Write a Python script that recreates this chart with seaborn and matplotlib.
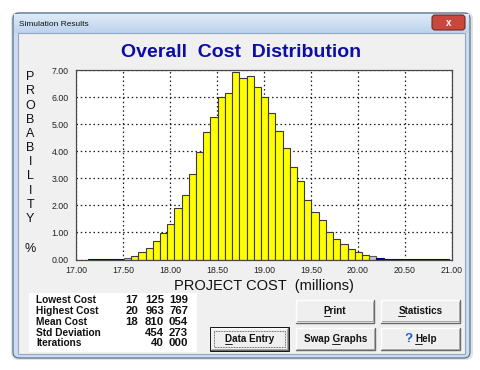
import numpy as np
import pandas as pd
import matplotlib
matplotlib.use("Agg")
import matplotlib.pyplot as plt
from matplotlib.patches import Rectangle, FancyBboxPatch
import seaborn as sns

# ---------------------------------------------------------------------
# Simulation output
# ---------------------------------------------------------------------
lowest_cost = 17.125199      # millions
highest_cost = 20.963767
n_bins = 50

# probability (%) of each cost bin, lowest -> highest
probability = [
    0.004, 0.004, 0.006, 0.010, 0.030,
    0.07, 0.12, 0.28, 0.44, 0.68,
    0.99, 1.31, 1.91, 2.40, 3.14,
    3.97, 4.71, 5.25, 6.01, 6.14,
    6.94, 6.71, 6.79, 6.37, 6.01,
    5.40, 4.75, 4.11, 3.41, 2.90,
    2.21, 1.74, 1.45, 1.01, 0.77,
    0.58, 0.37, 0.28, 0.16, 0.12,
    0.05, 0.010, 0.006, 0.004, 0.003,
    0.003, 0.002, 0.002, 0.002, 0.002,
]

x_ticks = [17.0, 17.5, 18.0, 18.5, 19.0, 19.5, 20.0, 20.5, 21.0]
y_ticks = [0, 1, 2, 3, 4, 5, 6, 7]

stat_labels = ["Lowest Cost", "Highest Cost", "Mean Cost", "Std Deviation", "Iterations"]
stat_values = ["17 125 199", "20 963 767", "18 810 054", "454 273", "40 000"]

title = "Overall  Cost  Distribution"
x_label = "PROJECT COST  (millions)"
y_label = "PROBABILITY"

edges = np.linspace(lowest_cost, highest_cost, n_bins + 1)
hist_df = pd.DataFrame({"cost": (edges[:-1] + edges[1:]) / 2, "prob": probability})

# ---------------------------------------------------------------------
# figure + window chrome (pixel coordinates, y down)
# ---------------------------------------------------------------------
sns.set_theme(style="white")
plt.rcParams["font.family"] = ["Liberation Sans", "DejaVu Sans"]

fig = plt.figure(figsize=(4.8, 3.7), dpi=100)
fig.patch.set_facecolor("white")
bg = fig.add_axes([0, 0, 1, 1])
bg.axis("off")

PX = 0.72  # one pixel in points

# shadow + frame
bg.add_patch(FancyBboxPatch((11, 12), 462, 348, boxstyle="round,pad=0,rounding_size=7",
                            fc="#e2e2e2", ec="none"))
bg.add_patch(FancyBboxPatch((13, 13), 457, 345, boxstyle="round,pad=0,rounding_size=6",
                            fc="#c9dcf1", ec="#5d7290", lw=0.9))
# title bar gradient
grad = np.linspace(0, 1, 20)[:, None, None]
top_c = np.array([0.87, 0.92, 0.97])
bot_c = np.array([0.74, 0.83, 0.93])
bg.imshow(top_c * (1 - grad) + bot_c * grad, extent=[14, 469, 33, 14], aspect="auto", zorder=1)
bg.set_xlim(0, 480)
bg.set_ylim(370, 0)
bg.text(19, 24, "Simulation Results", fontsize=6, va="center", ha="left", color="#111111", zorder=3)
bg.add_patch(FancyBboxPatch((432, 15), 33, 15, boxstyle="round,pad=0,rounding_size=3",
                            fc="#c9473d", ec="#6e2a24", lw=0.8, zorder=3))
bg.text(448.5, 22.5, "x", fontsize=7, fontweight="bold", color="white",
        ha="center", va="center", zorder=4)

# client area
bg.add_patch(Rectangle((18, 33), 447, 321, fc="#f0f0f0", ec="#93a7c0", lw=0.8, zorder=2))

bg.text(241, 57, title, fontsize=14, fontweight="bold", color="#0d0da6",
        ha="center", va="baseline", zorder=3)

# stacked y label
for i, ch in enumerate(y_label):
    bg.text(30.3, 77.2 + i * 14.18, ch, fontsize=9, ha="center", va="center",
            color="#111111", zorder=3)
bg.text(30, 249.5, "%", fontsize=9, ha="center", va="center", color="#111111", zorder=3)

bg.text(264, 290.4, x_label, fontsize=10.5, ha="center", va="baseline",
        color="#111111", zorder=3)

# stats box
bg.add_patch(Rectangle((29, 293), 168, 59, fc="white", ec="none", zorder=3))
baselines = [303, 313.8, 324.7, 335.7, 346.5]
group_right = [188, 164, 138]
for lab, val, yb in zip(stat_labels, stat_values, baselines):
    bg.text(36, yb, lab, fontsize=7.3, fontweight="bold", ha="left", va="baseline",
            color="#111111", zorder=4)
    for grp, xr in zip(reversed(val.split()), group_right):
        bg.text(xr, yb, grp, fontsize=8.2, fontweight="bold", ha="right", va="baseline",
                color="#111111", zorder=4)

# buttons
renderer = fig.canvas.get_renderer()


def text_width(s, **kw):
    t = bg.text(0, 0, s, **kw)
    w = t.get_window_extent(renderer).width
    t.remove()
    return w


def button(x0, y0, x1, y1, label, key, baseline, focus=False, help_icon=False):
    bg.add_patch(Rectangle((x0, y0), x1 - x0, y1 - y0, fc="#efefef", ec="none", zorder=3))
    if focus:
        bg.add_patch(Rectangle((x0 - 0.5, y0 - 0.5), x1 - x0 + 1, y1 - y0 + 1, fc="none",
                               ec="#1a1a1a", lw=1 * PX, zorder=5))
        bg.add_patch(Rectangle((x0 + 3.5, y0 + 3.5), x1 - x0 - 7, y1 - y0 - 7, fc="none",
                               ec="#333333", lw=0.8 * PX, ls=(0, (1, 1)), zorder=5))
    bg.plot([x0, x0, x1], [y1, y0, y0], color="white", lw=1.4 * PX, zorder=4)
    bg.plot([x0, x1, x1], [y1, y1, y0], color="#6a6a6a", lw=1.4 * PX, zorder=4)
    bg.plot([x0 + 1.5, x1 - 1.5, x1 - 1.5], [y1 - 1.5, y1 - 1.5, y0 + 1.5],
            color="#a8a8a8", lw=1 * PX, zorder=4)

    kw = dict(fontsize=7.1, fontweight="bold")
    w = text_width(label, **kw)
    cx = (x0 + x1) / 2
    if help_icon:
        qw = text_width("?", fontsize=9.5, fontweight="bold")
        total = qw + 3 + w
        left_q = cx - total / 2
        bg.text(left_q, baseline, "?", fontsize=9.5, fontweight="bold", color="#1f5ccc",
                ha="left", va="baseline", zorder=6)
        left = left_q + qw + 3
    else:
        left = cx - w / 2
    bg.text(left, baseline, label, ha="left", va="baseline", color="#111111", zorder=6, **kw)
    # mnemonic underline
    start = text_width(label[:key + 1], **kw) - text_width(label[key], **kw)
    cw = text_width(label[key], **kw)
    bg.plot([left + start, left + start + cw], [baseline + 1.6, baseline + 1.6],
            color="#111111", lw=0.9 * PX, zorder=6)


button(295.7, 300, 374.3, 322.7, "Print", 0, 314.3)
button(380.7, 300, 460, 322.7, "Statistics", 0, 314.3)
button(210, 327.7, 288.3, 350, "Data Entry", 0, 342.5, focus=True)
button(295.7, 327.7, 375, 350, "Swap Graphs", 5, 342.5)
button(380.7, 327.7, 460, 350, "Help", 0, 342.5, help_icon=True)

# ---------------------------------------------------------------------
# histogram
# ---------------------------------------------------------------------
ax = fig.add_axes([76 / 480, (370 - 259.5) / 370, 376 / 480, 189.5 / 370])
ax.set_facecolor("white")
sns.histplot(data=hist_df, x="cost", weights="prob", bins=edges.tolist(), ax=ax,
             color="#ffff00", edgecolor="#3a3a3a", linewidth=0.8, alpha=1)

gray_bins = [5, 39]
for i, patch in enumerate(ax.patches):
    if i in gray_bins:
        patch.set_facecolor("#c4c4c4")
        patch.set_edgecolor("#5a5a5a")
    elif i < 5 or i > 39:
        patch.set_facecolor("#000080")
        patch.set_edgecolor("#000080")

ax.set_xlim(17, 21)
ax.set_ylim(0, 7)
ax.set_xticks(x_ticks)
ax.set_yticks(y_ticks)
ax.set_xticklabels([f"{v:.2f}" for v in x_ticks])
ax.set_yticklabels([f"{v:.2f}" for v in y_ticks])
ax.set_xlabel("")
ax.set_ylabel("")
ax.set_axisbelow(True)
ax.grid(True, color="#1a1a1a", linestyle=(0, (1.2, 2.2)), linewidth=0.9)
for s in ax.spines.values():
    s.set_visible(True)
    s.set_color("#4a4a4a")
    s.set_linewidth(0.9)
ax.tick_params(axis="both", length=3, width=0.7, color="#6a6a6a",
               labelsize=6.3, labelcolor="#222222")
ax.tick_params(axis="y", pad=2.2)
ax.tick_params(axis="x", pad=2.0)

fig.savefig("out.png", dpi=100)
